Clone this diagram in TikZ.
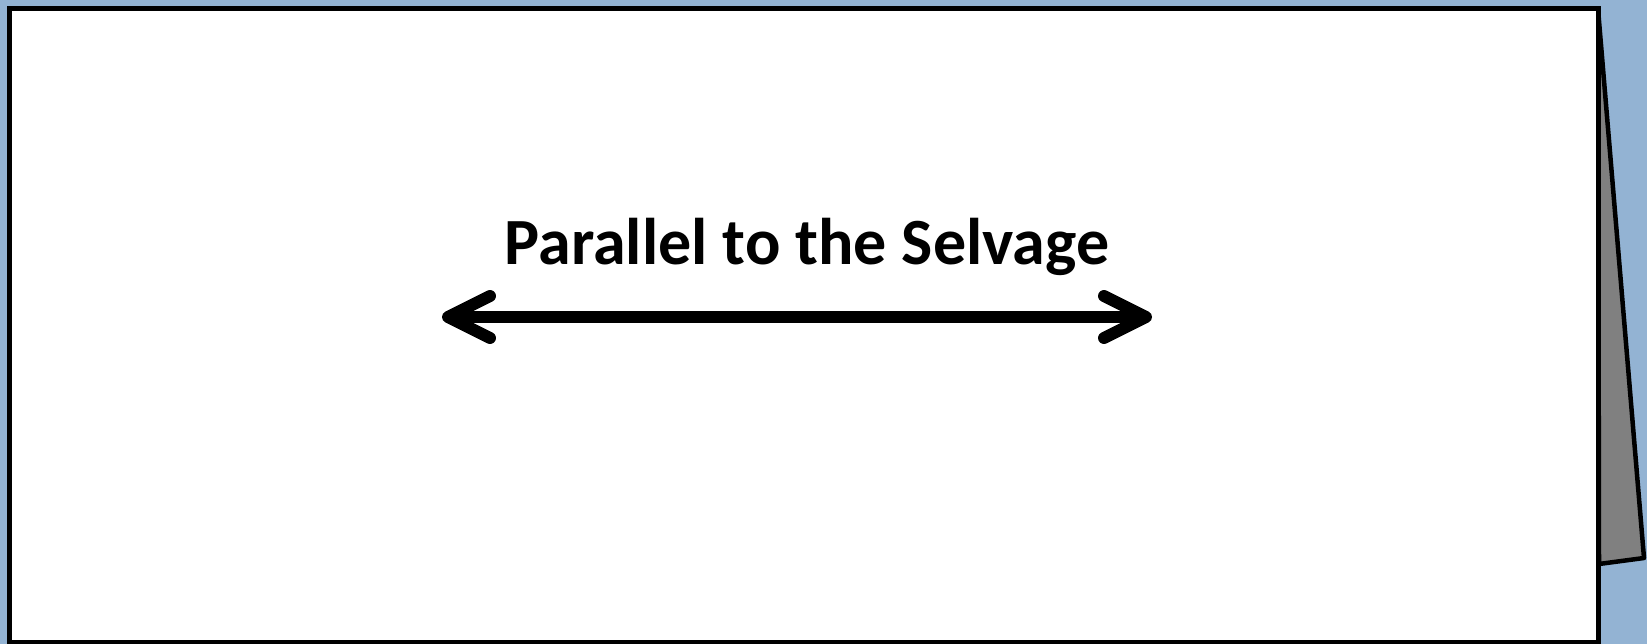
\documentclass[tikz,border=0pt]{standalone}
\usepackage{fontspec}
\setmainfont{Carlito}
\usetikzlibrary{arrows.meta}
\definecolor{sky}{HTML}{93B3D3}
\definecolor{flapgray}{HTML}{808080}
\begin{document}
\begin{tikzpicture}[x=1pt, y=-1pt,
		edge/.style={draw=black, line width=5pt},
		grain/.style={line width=12pt, line cap=round,
			arrows={Straight Barb[length=42pt, width=42pt, round]-Straight Barb[length=42pt, width=42pt, round]}},
		label/.style={font=\fontsize{66}{78}\selectfont\bfseries, inner sep=0pt}]
			\useasboundingbox (0, 0) rectangle (1647, 644);
			\fill[sky] (0, 0) rectangle (1647, 644);

			% folded flap behind the sheet
			\filldraw[edge, fill=flapgray, line width=4.5pt, line join=round] (1598, 9) -- (1644, 558) -- (1599, 564) -- cycle;
			% fabric sheet
			\filldraw[edge, fill=white] (9, 8.5) rectangle (1598.5, 642);

			\coordinate (l) at (442, 317);
			\coordinate (r) at (1152, 317);
			\node[label, anchor=base] (t) at (807, 265) {Parallel to the Selvage};

			\draw[grain] (l) -- (r);
		\end{tikzpicture}
\end{document}
